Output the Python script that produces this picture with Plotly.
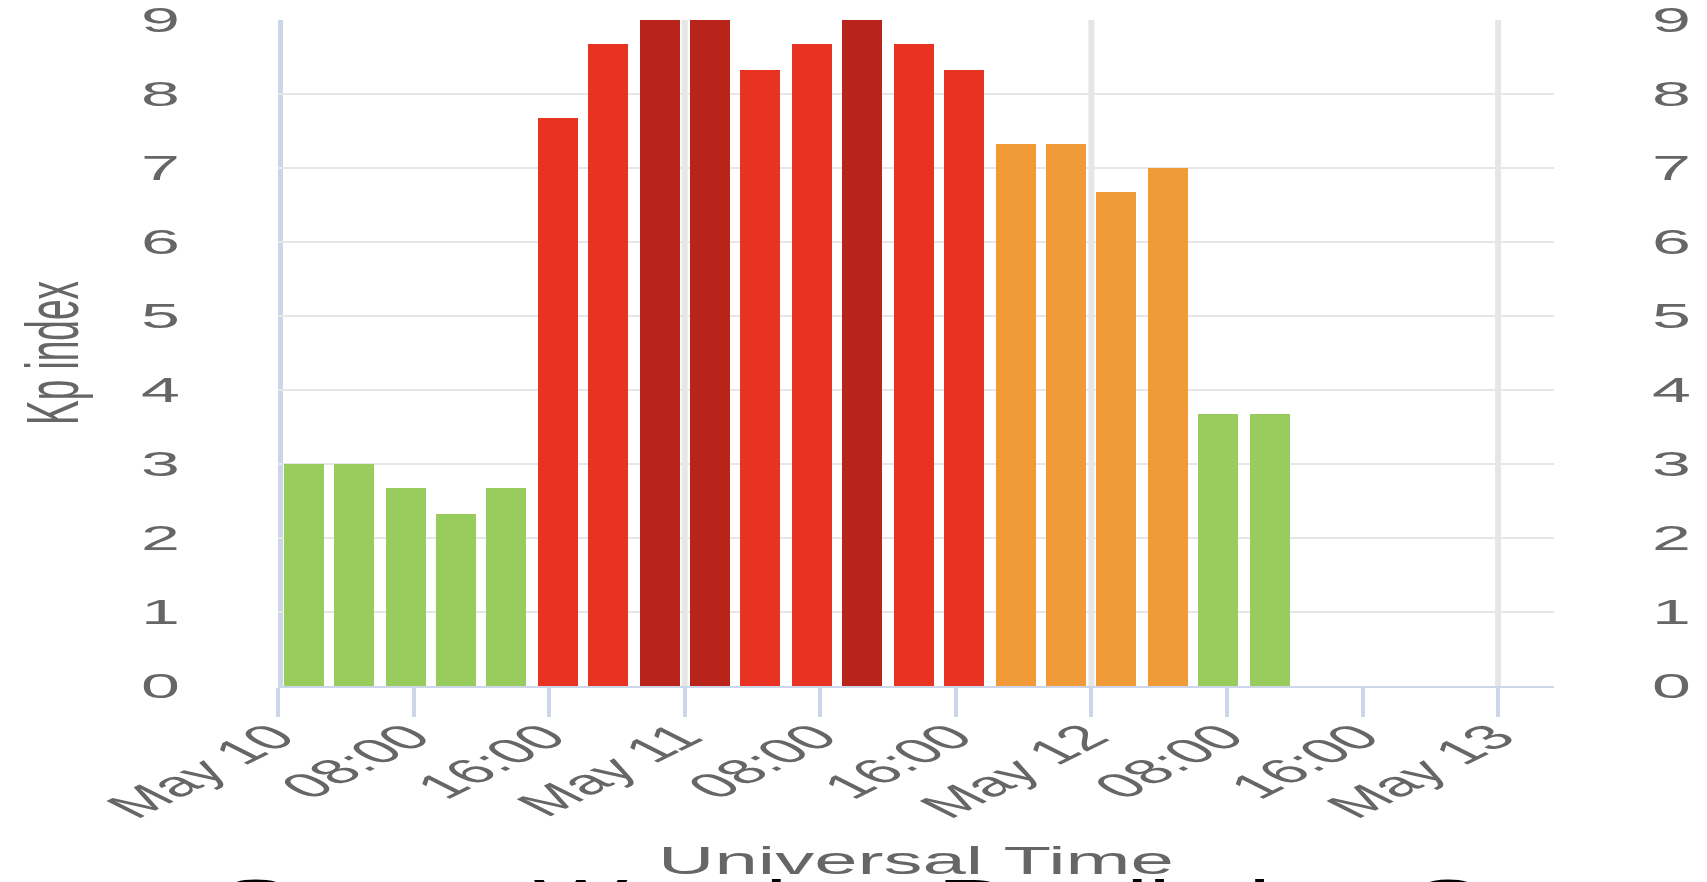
import plotly.graph_objects as go
import pandas as pd

# ---------------- data ----------------
period_start = [
    "2024-05-10 00:00", "2024-05-10 03:00", "2024-05-10 06:00", "2024-05-10 09:00",
    "2024-05-10 12:00", "2024-05-10 15:00", "2024-05-10 18:00", "2024-05-10 21:00",
    "2024-05-11 00:00", "2024-05-11 03:00", "2024-05-11 06:00", "2024-05-11 09:00",
    "2024-05-11 12:00", "2024-05-11 15:00", "2024-05-11 18:00", "2024-05-11 21:00",
    "2024-05-12 00:00", "2024-05-12 03:00", "2024-05-12 06:00", "2024-05-12 09:00",
]
kp_values = [
    3.0, 3.0, 2.67, 2.33, 2.67, 7.67, 8.67, 9.0,
    9.0, 8.33, 8.67, 9.0, 8.67, 8.33, 7.33, 7.33,
    6.67, 7.0, 3.67, 3.67,
]
tick_times = [
    "2024-05-10 00:00", "2024-05-10 08:00", "2024-05-10 16:00",
    "2024-05-11 00:00", "2024-05-11 08:00", "2024-05-11 16:00",
    "2024-05-12 00:00", "2024-05-12 08:00", "2024-05-12 16:00",
    "2024-05-13 00:00",
]
tick_labels = ["May 10", "08:00", "16:00", "May 11", "08:00", "16:00",
               "May 12", "08:00", "16:00", "May 13"]
y_ticks = [0, 1, 2, 3, 4, 5, 6, 7, 8, 9]
day_lines = ["2024-05-10 00:00", "2024-05-11 00:00", "2024-05-12 00:00", "2024-05-13 00:00"]
x_range = ["2024-05-10 00:00", "2024-05-13 03:18"]

# ---------------- style ----------------
FONT = "Liberation Sans, Arial, Helvetica, sans-serif"
GREEN, ORANGE, RED, DARK_RED = "#98CC5C", "#F09B38", "#E83323", "#B8231A"
AXIS_BLUE = "#CCD6EB"
GRID = "#E6E6E6"
LABEL = "#666666"


def kp_color(v):
    if v >= 9:
        return DARK_RED
    if v >= 7.5:
        return RED
    if v >= 4.5:
        return ORANGE
    return GREEN


centers = pd.to_datetime(period_start) + pd.Timedelta(hours=1.5)
bar_width_ms = 2.36 * 3600 * 1000

fig = go.Figure()
fig.add_trace(go.Bar(
    x=centers, y=kp_values,
    width=[bar_width_ms] * len(kp_values),
    marker=dict(color=[kp_color(v) for v in kp_values], line=dict(width=0)),
    hoverinfo="skip",
))
# empty helper trace so that the right-hand Kp axis is drawn
fig.add_trace(go.Scatter(x=[], y=[], yaxis="y2", hoverinfo="skip", showlegend=False))

shapes = []
for i, d in enumerate(day_lines):
    shapes.append(dict(
        type="line", xref="x", yref="paper", x0=d, x1=d, y0=0, y1=1,
        layer="below",
        line=dict(color=AXIS_BLUE if i == 0 else GRID, width=5 if i == 0 else 3),
    ))

fig.update_layout(
    width=853.5, height=882,
    margin=dict(l=139, r=76.5, t=20, b=196, pad=0, autoexpand=False),
    plot_bgcolor="white", paper_bgcolor="white",
    showlegend=False, bargap=0,
    font=dict(family=FONT, color=LABEL),
    shapes=shapes,
    xaxis=dict(
        type="date", range=x_range, automargin=False,
        tickmode="array", tickvals=tick_times, ticktext=tick_labels,
        tickangle=-45, tickfont=dict(size=35, color=LABEL),
        ticklabelstandoff=-15, ticklabelshift=-2,
        ticks="outside", ticklen=29, tickwidth=2, tickcolor=AXIS_BLUE,
        showline=True, linecolor=AXIS_BLUE, linewidth=2,
        showgrid=False, zeroline=False,
        title=dict(text="Universal Time", font=dict(size=39, color=LABEL), standoff=30),
    ),
    yaxis=dict(
        range=[0, 9], automargin=False, tickmode="array", tickvals=y_ticks,
        showgrid=True, gridcolor=GRID, gridwidth=2,
        zeroline=False, showline=False, ticks="",
        tickfont=dict(size=35, color=LABEL), ticklabelstandoff=48,
        title=dict(text="Kp index", font=dict(size=37, color=LABEL), standoff=19),
    ),
    yaxis2=dict(
        overlaying="y", side="right", range=[0, 9], automargin=False,
        tickmode="array", tickvals=y_ticks,
        showgrid=False, zeroline=False, showline=False, ticks="",
        tickfont=dict(size=35, color=LABEL), ticklabelstandoff=48,
    ),
    annotations=[dict(
        text="Space Weather Prediction Center",
        xref="paper", yref="paper",
        x=(109 - 139) / 638, y=(686 - 868) / 666,
        xanchor="left", yanchor="top", showarrow=False,
        font=dict(size=50, color="black", family=FONT),
    )],
)

# The reference image is horizontally stretched 2x: lay out at half width
# and stretch the rendered chart to the full 1707 px window.
post = """
var gd = document.getElementById('{plot_id}');
document.documentElement.style.margin = '0';
document.body.style.margin = '0';
document.body.style.overflow = 'hidden';
gd.style.transformOrigin = '0 0';
gd.style.transform = 'scaleX(2)';
"""

fig.write_html("out.html", post_script=post, config={"displayModeBar": False})
